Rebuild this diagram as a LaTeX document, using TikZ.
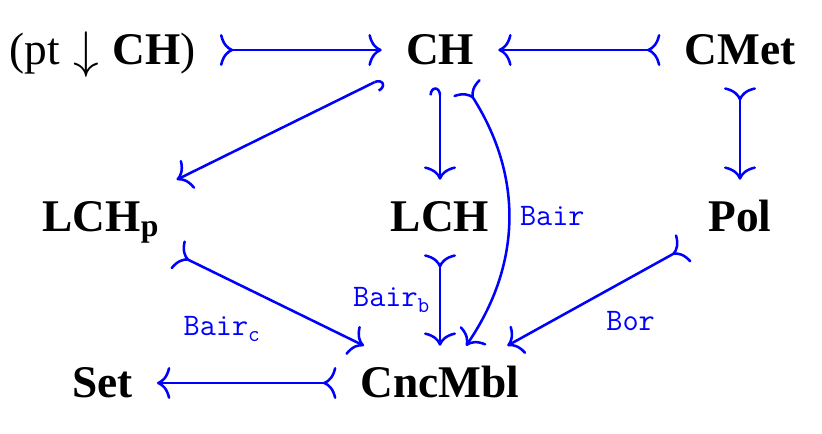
\documentclass[tikz,border=0pt]{standalone}
\usepackage{graphicx}
\usepackage{fontspec}
\setmainfont{Liberation Serif}
\usetikzlibrary{arrows.meta,bending}
\newcommand{\lblsub}[1]{\raisebox{-0.22em}{\fontsize{17}{20}\selectfont #1}}
\newcommand{\bigdown}{\raisebox{-2pt}{\scalebox{1.55}{$\downarrow$}}}
\tikzset{
  obj/.style={inner xsep=18pt, inner ysep=16.5pt, text height=22.5pt, text depth=0pt,
    font=\fontsize{34}{40}\selectfont\bfseries},
  cmhead/.tip={Computer Modern Rightarrow[width=24pt,length=10pt]},
  cmtail/.tip={Computer Modern Rightarrow[reversed,width=24pt,length=10pt]},
  hookR/.tip={Hooks[right,width=16pt,length=6pt]},
  hookL/.tip={Hooks[left,width=16pt,length=6pt]},
  mor/.style={draw=blue, line width=1.9pt},
  mono/.style={mor, cmtail-cmhead},
  lbl/.style={text=blue, font=\fontsize{23.5}{27}\selectfont\ttfamily, inner sep=7pt}
}
\begin{document}
\begin{tikzpicture}[x=0.75pt,y=-0.75pt]
\useasboundingbox (0,0) rectangle (822,434);
\node[obj] (ptch) at (102.5,50) {\mdseries(pt\hspace{0.3em}\bigdown\hspace{0.3em}\textbf{CH})};
\node[obj] (CH) at (440,50) {CH};
\node[obj] (CMet) at (740,50) {CMet};
\node[obj] (LCHp) at (101,217) {LCH\textsubscript{p}};
\node[obj] (LCH) at (440,217) {LCH};
\node[obj] (Pol) at (740,217) {Pol};
\node[obj] (Set) at (102.5,383) {Set};
\node[obj] (CncMbl) at (440,383) {CncMbl};

\draw[mono] (ptch) -- (CH);
\draw[mono] (CMet) -- (CH);
\draw[mono] (CMet) -- (Pol);
\draw[mor, hookR-cmhead] (CH) -- (LCHp);
\draw[mor, hookL-cmhead] (CH) -- (LCH);
\draw[mono] (CH) to[bend left=35] node[lbl,right] {Bair} (CncMbl);
\draw[mono] (LCH) -- node[lbl,left] {Bair\lblsub{b}} (CncMbl);
\draw[mono] (LCHp) -- node[lbl,below left,yshift=-4pt] {Bair\lblsub{c}} (CncMbl);
\draw[mono] (Pol) -- node[lbl,below right,yshift=-3pt] {Bor} (CncMbl);
\draw[mono] (CncMbl) -- (Set);
\end{tikzpicture}
\end{document}
